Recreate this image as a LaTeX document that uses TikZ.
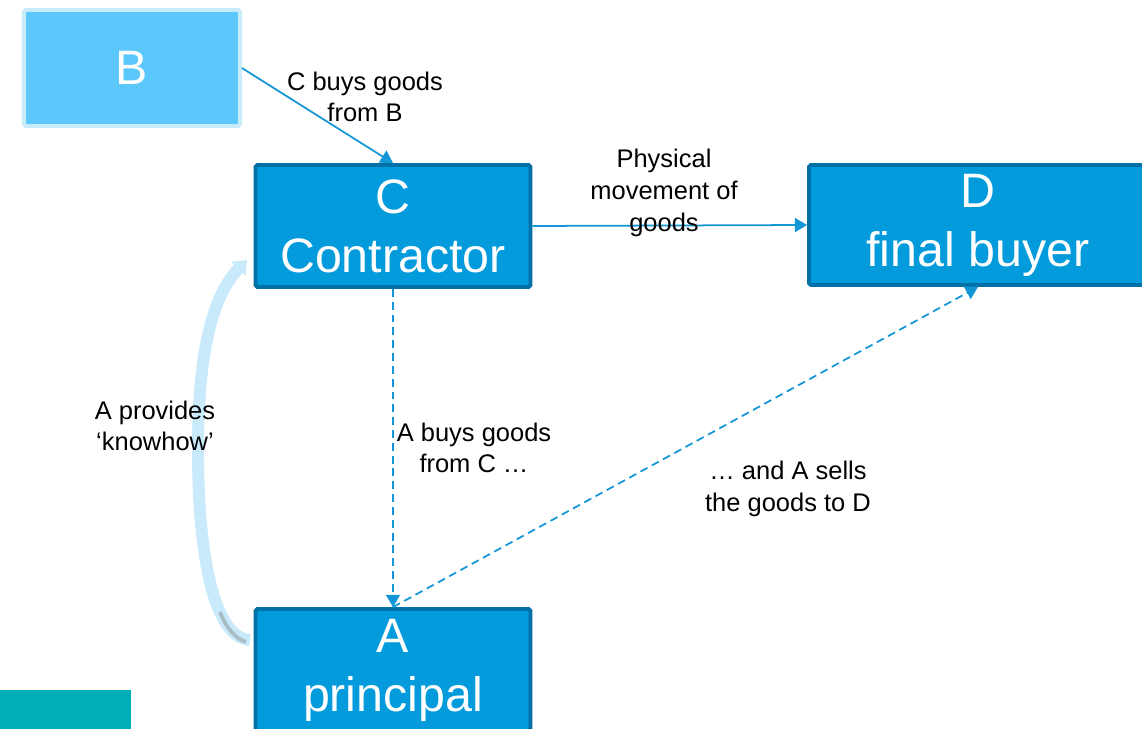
\documentclass[tikz,border=0pt]{standalone}
\usepackage{fontspec}
\setmainfont{Liberation Sans}
\usetikzlibrary{positioning, arrows.meta, calc}
\definecolor{boxfill}{HTML}{039BDC}
\definecolor{boxline}{HTML}{0070A6}
\definecolor{lightfill}{HTML}{5CC7FB}
\definecolor{lightline}{HTML}{C9ECFD}
\definecolor{linkblue}{HTML}{1396D6}
\definecolor{knowblue}{HTML}{C9EAFB}
\definecolor{shadegray}{HTML}{A9BDC7}
\definecolor{tealbar}{HTML}{00AEB8}

\begin{document}
\begin{tikzpicture}[x=0.02cm, y=-0.02cm,
    party/.style={draw=boxline, fill=boxfill, line width=2.2pt, text=white,
        rounded corners=1pt, font=\fontsize{27.5}{33.5}\selectfont, align=center,
        minimum width=5.5cm, minimum height=2.44cm, inner sep=0pt},
    source/.style={party, draw=lightline, fill=lightfill,
        minimum width=4.32cm, minimum height=2.32cm},
    note/.style={font=\fontsize{14.5}{18}\selectfont, align=center, inner sep=0pt},
    link/.style={linkblue, line width=1pt,
        -{Triangle[width=8pt, length=7pt]}},
    deal/.style={link, dash pattern=on 4.5pt off 2.8pt}
]
    \clip (0,0) rectangle (1142,729);

    % teal strip bottom left
    \fill[tealbar] (0,690) rectangle (131,729);

    % boxes
    \node[source] (B) at (132,68) {B};
    \node[party] (C) at (393,226) {C\\Contractor};
    \node[party, minimum width=6.76cm, minimum height=2.4cm] (D) at (978,225) {D\\final buyer};
    \node[party] (A) at (393,670) {A\\principal};

    % knowhow arrow
    \coordinate (kfrom) at (250,640);
    \coordinate (kto) at (247,260);
    \draw[knowblue, line width=6.8pt, -{Triangle[width=11pt, length=7pt]}]
        (kfrom) .. controls (215,638) and (198,560) .. (198,450)
        .. controls (198,350) and (213,295) .. (kto);
    \draw[shadegray, line width=2.2pt]
        (246,642) .. controls (236,639) and (226,628) .. (220,612);

    % goods and deals
    \draw[link] (B.east) -- (C.north);
    \draw[link] (C.east) -- (D.west);
    \draw[deal] (C.south) -- (A.north);
    \draw[deal] (A.north) -- (D.south);

    % labels
    \node[note] (buysB) at (365,97) {C buys goods\\from B};
    \node[note] (move) at (664,193) {Physical\\movement of\\goods};
    \node[note] (know) at (155,426) {A provides\\‘knowhow’};
    \node[note] (buysC) at (474,448) {A buys goods\\from C …};
    \node[note] (sells) at (788,489) {… and A sells\\the goods to D};
\end{tikzpicture}
\end{document}
